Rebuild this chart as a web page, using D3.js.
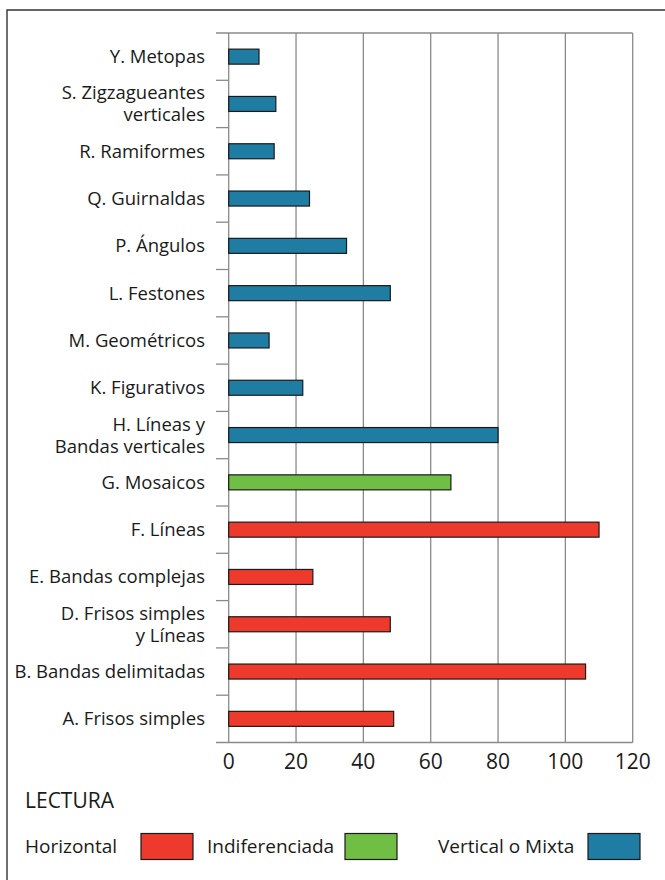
<!DOCTYPE html>
<html><head><meta charset="utf-8">
<script src="https://cdn.jsdelivr.net/npm/d3@7"></script>
<style>body{margin:0;background:#fff}svg{display:block}text{font-family:"Open Sans",sans-serif;fill:#1a1a1a}</style>
</head><body><svg id="c" width="665" height="880"></svg>
<script>
const categories = ["Y. Metopas","S. Zigzagueantes\nverticales","R. Ramiformes","Q. Guirnaldas","P. Ángulos","L. Festones","M. Geométricos","K. Figurativos","H. Líneas y\nBandas verticales","G. Mosaicos","F. Líneas","E. Bandas complejas","D. Frisos simples\ny Líneas","B. Bandas delimitadas","A. Frisos simples"];
const values = [9,14,13.5,24,35,48,12,22,80,66,110,25,48,106,49];
const groups = ["V","V","V","V","V","V","V","V","V","I","H","H","H","H","H"];
const xTicks = [0,20,40,60,80,100,120];
const legendKeys = ["H","I","V"];
const legendLabels = ["Horizontal","Indiferenciada","Vertical o Mixta"];
const legendTitle = "LECTURA";
const colors = {H:"#ee3a2c", I:"#70be44", V:"#1f7ca3"};

const svg = d3.select("#c");
const L = 228.7, R = 632.7, T = 33, B = 742.5;
const x = d3.scaleLinear().domain([0,120]).range([L,R]);
const y = d3.scaleBand().domain(categories).range([T,B]).padding(0);
const bw = y.bandwidth();
const bh = 15;
const fs = 18.5;
const lh = 22;

// frame
svg.append("path").attr("d","M7,880V10H665").attr("fill","none").attr("stroke","#333").attr("stroke-width",1.4);

// grid
svg.append("g").selectAll("line").data(xTicks).join("line")
  .attr("x1",d=>x(d)).attr("x2",d=>x(d)).attr("y1",T).attr("y2",B)
  .attr("stroke","#8a8a8a").attr("stroke-width",1.3);

// boundaries ticks on left + top / bottom lines
const bounds = d3.range(categories.length+1).map(i=>T+i*bw);
svg.append("g").selectAll("line").data(bounds).join("line")
  .attr("x1",216).attr("x2",(d,i)=>(i===0||i===categories.length)?R:L)
  .attr("y1",d=>d).attr("y2",d=>d)
  .attr("stroke","#8a8a8a").attr("stroke-width",1.3);

// bars
svg.append("g").selectAll("rect").data(categories).join("rect")
  .attr("x",x(0)).attr("y",d=>y(d)+(bw-bh)/2)
  .attr("width",(d,i)=>x(values[i])-x(0)).attr("height",bh)
  .attr("fill",(d,i)=>colors[groups[i]]).attr("stroke","#1a1a1a").attr("stroke-width",1.2);

// category labels (each line its own text element)
const labG = svg.append("g");
categories.forEach(d=>{
  const parts = d.split("\n");
  const cy = y(d)+bw/2;
  parts.forEach((p,k)=>{
    const off = (k-(parts.length-1)/2)*lh;
    labG.append("text").attr("x",205).attr("y",cy+off).attr("dy","0.35em")
      .attr("text-anchor","end").attr("font-size",fs).text(p);
  });
});

// x tick labels
svg.append("g").selectAll("text").data(xTicks).join("text")
  .attr("x",d=>x(d)).attr("y",769).attr("text-anchor","middle").attr("font-size",21).text(d=>d);

// legend
svg.append("text").attr("x",25).attr("y",808).attr("font-size",21).text(legendTitle);
const lx = [25,207,438], sx = [141,345,588];
legendKeys.forEach((k,i)=>{
  svg.append("text").attr("x",lx[i]).attr("y",853).attr("font-size",19).text(legendLabels[i]);
  svg.append("rect").attr("x",sx[i]).attr("y",833.5).attr("width",52).attr("height",26)
    .attr("fill",colors[k]).attr("stroke","#1a1a1a").attr("stroke-width",1.2);
});
</script></body></html>
